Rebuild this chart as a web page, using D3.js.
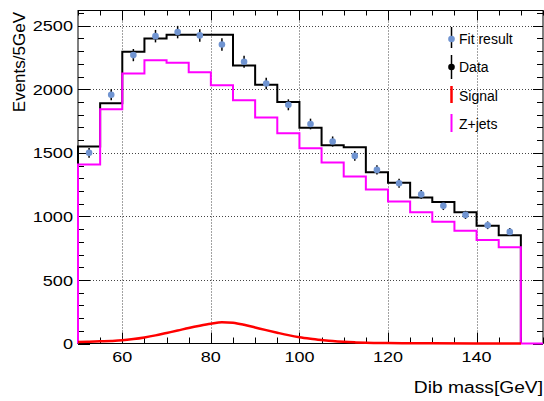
<!DOCTYPE html>
<html>
<head>
<meta charset="utf-8">
<script src="https://cdn.jsdelivr.net/npm/d3@7"></script>
<style>
  body { margin: 0; background: #fff; }
  svg { display: block; font-family: "Liberation Sans", Arial, sans-serif; }
</style>
</head>
<body>
<div id="chart"></div>
<script>
// Bin low edges (5 GeV bins)
const binLow = [50, 55, 60, 65, 70, 75, 80, 85, 90, 95, 100, 105, 110, 115, 120, 125, 130, 135, 140, 145];
const binWidth = 5;

// Black histogram ("Data")
const dataHist = [1550, 1890, 2295, 2400, 2430, 2430, 2430, 2187, 2035, 1901, 1697, 1560, 1544, 1347, 1264, 1148, 1114, 1032, 927, 851];

// Z+jets histogram
const zjets = [1408, 1843, 2124, 2229, 2209, 2135, 2032, 1914, 1778, 1654, 1537, 1424, 1313, 1211, 1117, 1032, 957, 888, 815, 757];

// Fit result points and their errors
const fitValues = [1500, 1957, 2269, 2418, 2450, 2424, 2353, 2217, 2046, 1878, 1727, 1589, 1476, 1366, 1261, 1173, 1083, 1012, 930, 878];
const fitErrors = [39, 44, 48, 49, 49, 49, 49, 47, 45, 43, 42, 40, 38, 37, 36, 34, 33, 32, 30, 30];

// Signal curve
const signalMass = [50, 52.5, 55, 57.5, 60, 62.5, 65, 67.5, 70, 72.5, 75, 77.5, 80, 82.5, 85, 87.5, 90, 92.5, 95, 97.5, 100, 102.5, 105, 107.5, 110, 112.5, 115, 117.5, 120, 125, 130, 140, 150];
const signalValue = [12, 14, 17, 20, 25, 35, 48, 64, 83, 102, 122, 140, 156, 168, 163, 147, 126, 105, 85, 66, 50, 38, 28, 19, 13, 9, 6, 4, 3, 2, 1, 0.5, 0.3];

const xTicks = [60, 80, 100, 120, 140];
const yTicks = [0, 500, 1000, 1500, 2000, 2500];

const legendItems = ["Fit result", "Data", "Signal", "Z+jets"];

const width = 544, height = 401;
const margin = {top: 10.5, right: 1, bottom: 57.5, left: 78};

const svg = d3.select("#chart").append("svg")
  .attr("width", width)
  .attr("height", height);

const x = d3.scaleLinear().domain([50, 155]).range([margin.left, width - margin.right]);
const y = d3.scaleLinear().domain([0, 2620]).range([height - margin.bottom, margin.top]);

// horizontal text in the picture is wider than the font, stretch it a bit
function stretch(sel, k) {
  sel.each(function () {
    const w = this.getComputedTextLength();
    d3.select(this).attr("textLength", w * k).attr("lengthAdjust", "spacingAndGlyphs");
  });
}

// Grid
const grid = svg.append("g")
  .attr("stroke", "#444")
  .attr("stroke-width", 1)
  .attr("stroke-dasharray", "1,2");
grid.selectAll(".gx").data(xTicks).join("line")
  .attr("x1", d => Math.round(x(d)) + 0.5).attr("x2", d => Math.round(x(d)) + 0.5)
  .attr("y1", y.range()[0]).attr("y2", y.range()[1]);
grid.selectAll(".gy").data(yTicks.slice(1)).join("line")
  .attr("y1", d => Math.round(y(d)) + 0.5).attr("y2", d => Math.round(y(d)) + 0.5)
  .attr("x1", x.range()[0]).attr("x2", x.range()[1]);

// Frame (drawn first, curves go on top of it)
svg.append("rect")
  .attr("x", x.range()[0]).attr("y", y.range()[1])
  .attr("width", x.range()[1] - x.range()[0])
  .attr("height", y.range()[0] - y.range()[1])
  .attr("fill", "none")
  .attr("stroke", "#000")
  .attr("stroke-width", 1);

// Ticks (inside the frame, on all four sides)
const ticks = svg.append("g").attr("stroke", "#000").attr("stroke-width", 1);
const yMinor = d3.range(0, 2601, 100);
const xMinor = d3.range(50, 156, 5);
ticks.selectAll(".yl").data(yMinor).join("line")
  .attr("x1", x.range()[0]).attr("x2", d => x.range()[0] + (d % 500 === 0 ? 12 : 6))
  .attr("y1", d => Math.round(y(d)) + 0.5).attr("y2", d => Math.round(y(d)) + 0.5);
ticks.selectAll(".yr").data(yMinor).join("line")
  .attr("x1", x.range()[1]).attr("x2", d => x.range()[1] - (d % 500 === 0 ? 10 : 6))
  .attr("y1", d => Math.round(y(d)) + 0.5).attr("y2", d => Math.round(y(d)) + 0.5);
ticks.selectAll(".xb").data(xMinor).join("line")
  .attr("x1", d => Math.round(x(d)) + 0.5).attr("x2", d => Math.round(x(d)) + 0.5)
  .attr("y1", y.range()[0]).attr("y2", d => y.range()[0] - (d % 20 === 0 ? 11 : 6));
ticks.selectAll(".xt").data(xMinor).join("line")
  .attr("x1", d => Math.round(x(d)) + 0.5).attr("x2", d => Math.round(x(d)) + 0.5)
  .attr("y1", y.range()[1]).attr("y2", d => y.range()[1] + (d % 20 === 0 ? 10 : 5));

// Step path helper: starts and ends at zero
function stepPath(values, tailTo) {
  const pts = [[x(binLow[0]), y(0)]];
  values.forEach((v, i) => {
    pts.push([x(binLow[i]), y(v)]);
    pts.push([x(binLow[i] + binWidth), y(v)]);
  });
  const last = binLow[binLow.length - 1] + binWidth;
  pts.push([x(last), y(0)]);
  if (tailTo) pts.push([x(tailTo), y(0)]);
  return d3.line()(pts);
}

const plot = svg.append("g");

plot.append("path")
  .attr("d", stepPath(dataHist))
  .attr("fill", "none")
  .attr("stroke", "#000")
  .attr("stroke-width", 2);

plot.append("path")
  .attr("d", stepPath(zjets, 155))
  .attr("fill", "none")
  .attr("stroke", "#ff00ff")
  .attr("stroke-width", 2);

// Signal
plot.append("path")
  .datum(signalMass.map((m, i) => [m, signalValue[i]]))
  .attr("fill", "none")
  .attr("stroke", "#ff0000")
  .attr("stroke-width", 2.5)
  .attr("d", d3.line().x(d => x(d[0])).y(d => y(d[1])).curve(d3.curveMonotoneX));

// Fit result points
const pts = svg.append("g");
pts.selectAll("line").data(fitValues).join("line")
  .attr("x1", (d, i) => x(binLow[i] + binWidth / 2))
  .attr("x2", (d, i) => x(binLow[i] + binWidth / 2))
  .attr("y1", (d, i) => y(d - fitErrors[i]))
  .attr("y2", (d, i) => y(d + fitErrors[i]))
  .attr("stroke", "#000")
  .attr("stroke-width", 1.5);
pts.selectAll("circle").data(fitValues).join("circle")
  .attr("cx", (d, i) => x(binLow[i] + binWidth / 2))
  .attr("cy", d => y(d))
  .attr("r", 3.3)
  .attr("fill", "#7094d1");

// Tick labels
svg.append("g").selectAll("text").data(yTicks).join("text")
  .attr("x", 73)
  .attr("y", d => y(d))
  .attr("dy", "0.36em")
  .attr("text-anchor", "end")
  .style("font-size", "15.5px")
  .text(d => d)
  .call(stretch, 1.17);

svg.append("g").selectAll("text").data(xTicks).join("text")
  .attr("x", d => x(d))
  .attr("y", 362)
  .attr("text-anchor", "middle")
  .style("font-size", "15px")
  .text(d => d)
  .call(stretch, 1.2);

// Axis titles
svg.append("text")
  .attr("transform", "translate(25,12) rotate(-90)")
  .attr("text-anchor", "end")
  .style("font-size", "17px")
  .text("Events/5GeV");

svg.append("text")
  .attr("x", 543)
  .attr("y", 393)
  .attr("text-anchor", "end")
  .style("font-size", "16px")
  .text("Dib mass[GeV]")
  .call(stretch, 1.2);

// Legend
const legend = svg.append("g");
const legendY = [39, 67, 96, 124];
const lx = 451.5;
// Fit result
legend.append("line").attr("x1", lx).attr("x2", lx).attr("y1", 27).attr("y2", 48).attr("stroke", "#000").attr("stroke-width", 1.5);
legend.append("circle").attr("cx", lx).attr("cy", legendY[0]).attr("r", 3.3).attr("fill", "#7094d1");
// Data
legend.append("line").attr("x1", lx).attr("x2", lx).attr("y1", 55).attr("y2", 79).attr("stroke", "#000").attr("stroke-width", 1.5);
legend.append("circle").attr("cx", lx).attr("cy", legendY[1]).attr("r", 3.3).attr("fill", "#000");
// Signal
legend.append("line").attr("x1", lx).attr("x2", lx).attr("y1", 86).attr("y2", 103).attr("stroke", "#ff0000").attr("stroke-width", 2.5);
// Z+jets
legend.append("line").attr("x1", lx).attr("x2", lx).attr("y1", 114).attr("y2", 132).attr("stroke", "#ff00ff").attr("stroke-width", 2);

legend.selectAll("text").data(legendItems).join("text")
  .attr("x", 459)
  .attr("y", (d, i) => legendY[i])
  .attr("dy", "0.36em")
  .style("font-size", "14px")
  .text(d => d);
</script>
</body>
</html>
